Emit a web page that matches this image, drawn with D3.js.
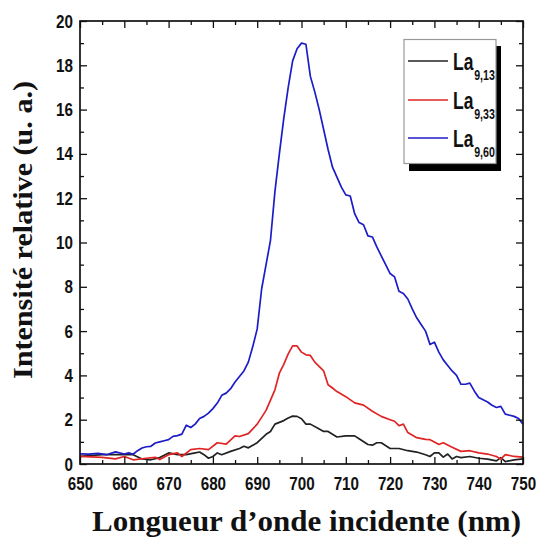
<!DOCTYPE html>
<html><head><meta charset="utf-8">
<script src="https://cdn.jsdelivr.net/npm/d3@7"></script>
<style>
body{margin:0;background:#fff;}
svg{display:block;}
.tick text{font-family:"Liberation Sans",Arial,sans-serif;font-weight:bold;font-size:19px;fill:#111;}
</style></head>
<body><svg id="c" width="536" height="538"></svg>
<script>
// ---- data ----
const xTicks = [650,660,670,680,690,700,710,720,730,740,750];
const yTicks = [0,2,4,6,8,10,12,14,16,18,20];

const seriesNames = ["9,13","9,33","9,60"];
const seriesColors = ["#222222","#e02424","#1c1cc8"];

const blackX = [650,655,660,662,664,666,668,670,672,674,676,677,678,679,680,681,682,684,686,687,688,690,692,693,694,696,697,698,699,700,701,702,704,705,706,707,708,710,712,713,715,716,717,718,720,722,724,726,728,729,730,731,732,733,734,735,736,738,740,742,744,745,746,748,750];
const blackY = [0.34,0.42,0.42,0.42,0.23,0.19,0.29,0.5,0.42,0.42,0.5,0.54,0.42,0.26,0.34,0.5,0.42,0.57,0.7,0.8,0.73,0.96,1.34,1.47,1.8,1.96,2.08,2.16,2.15,2.04,1.8,1.8,1.58,1.47,1.47,1.34,1.22,1.27,1.27,1.14,0.88,0.85,0.96,0.96,0.7,0.7,0.6,0.54,0.42,0.34,0.5,0.5,0.31,0.45,0.23,0.34,0.29,0.34,0.26,0.22,0.14,0.29,0.11,0.19,0.23];

const redX = [650,655,658,660,662,665,667,668,670,672,673,675,677,679,681,683,685,686,688,690,692,694,695,696,697,698,699,700,701,702,703,705,706,707,708,710,712,714,716,718,720,721,722,723,724,726,728,729,730,731,732,734,736,738,740,742,744,745,746,748,750];
const redY = [0.34,0.3,0.23,0.34,0.19,0.26,0.3,0.2,0.42,0.5,0.34,0.65,0.7,0.65,0.96,0.9,1.27,1.24,1.37,1.8,2.42,3.35,4.1,4.5,4.97,5.33,5.33,5.05,4.93,4.9,4.6,4.2,3.58,3.43,3.27,3.04,2.76,2.66,2.38,2.15,2.0,1.93,1.73,1.8,1.42,1.19,1.11,1.1,0.99,0.88,0.96,0.76,0.57,0.6,0.5,0.45,0.34,0.22,0.42,0.34,0.31];

const blueX = [650,652,654,656,658,660,661,662,663,664,665,666,667,668,669,670,671,672,673,674,675,676,677,678,679,680,681,682,683,684,685,686,687,688,689,690,691,692,693,694,695,696,697,698,699,700,701,702,703,704,705,706,707,708,709,710,711,712,713,714,715,716,717,718,719,720,721,722,723,724,725,726,727,728,729,730,731,732,733,734,735,736,737,738,739,740,741,742,743,744,745,746,747,748,749,750];
const blueY = [0.46,0.45,0.48,0.42,0.55,0.45,0.5,0.44,0.6,0.72,0.78,0.8,0.95,1.0,1.05,1.1,1.25,1.28,1.35,1.75,1.65,1.8,2.05,2.15,2.3,2.5,2.75,3.1,3.2,3.4,3.7,3.95,4.2,4.6,5.3,6.1,7.9,9.0,10.1,12.3,14.0,15.6,17.0,18.2,18.75,19.0,18.95,17.5,16.8,16.0,15.1,14.2,13.4,12.95,12.5,12.15,12.1,11.3,10.9,10.8,10.3,10.25,9.8,9.4,9.0,8.6,8.45,7.8,7.7,7.45,7.0,6.6,6.3,6.0,5.4,5.5,5.05,4.7,4.45,4.2,4.0,3.6,3.6,3.65,3.3,3.0,2.9,2.8,2.65,2.55,2.6,2.25,2.2,2.15,2.05,1.8];

// ---- layout ----
const svg = d3.select("#c");
const L = 80, R = 523, T = 21, B = 464;
const SX = 0.8; // condensed look of tick labels
const x = d3.scaleLinear().domain([650,750]).range([L,R]);
const y = d3.scaleLinear().domain([0,20]).range([B,T]);

const series = [
  {name:seriesNames[0], color:seriesColors[0], xs:blackX, ys:blackY},
  {name:seriesNames[1], color:seriesColors[1], xs:redX, ys:redY},
  {name:seriesNames[2], color:seriesColors[2], xs:blueX, ys:blueY}
];

const line = d3.line().x(d=>x(d[0])).y(d=>y(d[1]));
const gLines = svg.append("g");
series.forEach(s=>{
  gLines.append("path")
    .datum(s.xs.map((v,i)=>[v,s.ys[i]]))
    .attr("d",line).attr("fill","none")
    .attr("stroke",s.color).attr("stroke-width",1.7)
    .attr("stroke-linejoin","round");
});

// ---- axes ----
const xMinor = d3.range(655,750,10);
const yMinor = d3.range(1,20,2);
function styleAxis(g){ g.select(".domain").remove(); g.selectAll("line").attr("stroke","#111").attr("stroke-width",1.3); }

const gxb = svg.append("g").attr("transform",`translate(0,${B})`)
  .call(d3.axisBottom(x).tickValues(xTicks).tickFormat(d3.format("d")).tickSize(-7).tickPadding(13)).call(styleAxis);
gxb.selectAll("text").attr("transform",`scale(${SX},1)`);
svg.append("g").attr("transform",`translate(0,${B})`)
  .call(d3.axisBottom(x).tickValues(xMinor).tickFormat("").tickSize(-4)).call(styleAxis);
svg.append("g").attr("transform",`translate(0,${T})`)
  .call(d3.axisTop(x).tickValues(xTicks).tickFormat("").tickSize(-7)).call(styleAxis);
svg.append("g").attr("transform",`translate(0,${T})`)
  .call(d3.axisTop(x).tickValues(xMinor).tickFormat("").tickSize(-4)).call(styleAxis);

const gyl = svg.append("g").attr("transform",`translate(${L},0)`)
  .call(d3.axisLeft(y).tickValues(yTicks).tickFormat(d3.format("d")).tickSize(-7).tickPadding(7)).call(styleAxis);
gyl.selectAll("text").attr("x",-7/SX).attr("transform",`scale(${SX},1)`);
svg.append("g").attr("transform",`translate(${L},0)`)
  .call(d3.axisLeft(y).tickValues(yMinor).tickFormat("").tickSize(-4)).call(styleAxis);
svg.append("g").attr("transform",`translate(${R},0)`)
  .call(d3.axisRight(y).tickValues(yTicks).tickFormat("").tickSize(-7)).call(styleAxis);
svg.append("g").attr("transform",`translate(${R},0)`)
  .call(d3.axisRight(y).tickValues(yMinor).tickFormat("").tickSize(-4)).call(styleAxis);

svg.append("rect").attr("x",L).attr("y",T).attr("width",R-L).attr("height",B-T)
  .attr("fill","none").attr("stroke","#111").attr("stroke-width",1.7);

// ---- titles ----
svg.append("text").attr("x",92).attr("y",531).attr("text-anchor","start")
  .attr("font-family","'Liberation Serif','Times New Roman',serif").attr("font-weight","bold")
  .attr("font-size",29).attr("fill","#111")
  .attr("textLength",429).attr("lengthAdjust","spacingAndGlyphs")
  .text("Longueur d’onde incidente (nm)");
svg.append("text").attr("transform",`translate(32,230) rotate(-90)`).attr("text-anchor","middle")
  .attr("font-family","'Liberation Serif','Times New Roman',serif").attr("font-weight","bold")
  .attr("font-size",28).attr("fill","#111")
  .attr("textLength",298).attr("lengthAdjust","spacingAndGlyphs")
  .text("Intensité relative (u. a.)");

// ---- legend ----
const lg = svg.append("g");
lg.append("rect").attr("x",409).attr("y",46).attr("width",92).attr("height",125).attr("fill","#000");
lg.append("rect").attr("x",404).attr("y",39.5).attr("width",92).attr("height",124)
  .attr("fill","#fff").attr("stroke","#999").attr("stroke-width",1.2);
const rowsY = [61,100,138];
series.forEach((s,i)=>{
  lg.append("line").attr("x1",408).attr("x2",448).attr("y1",rowsY[i]).attr("y2",rowsY[i])
    .attr("stroke",s.color).attr("stroke-width",1.7);
  const t = lg.append("text").attr("transform",`translate(453,${rowsY[i]+8.5}) scale(0.76,1)`)
    .attr("font-family","'Liberation Sans',Arial,sans-serif")
    .attr("font-weight","bold").attr("font-size",23).attr("fill","#111");
  t.append("tspan").text("La");
  t.append("tspan").attr("font-size",14).attr("dy",10).attr("dx",1).text(s.name);
});
</script></body></html>
